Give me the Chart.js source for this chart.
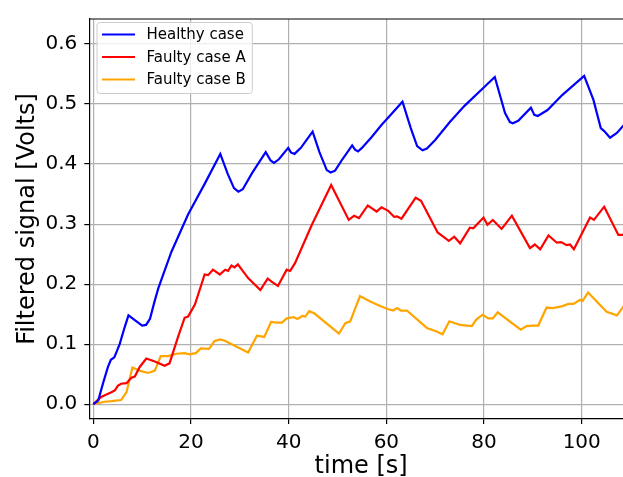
<!DOCTYPE html>
<html>
<head>
<meta charset="utf-8">
<script src="https://cdn.jsdelivr.net/npm/chart.js@4.4.1/dist/chart.umd.min.js"></script>
<style>
  html, body { margin: 0; padding: 0; background: #fff; overflow: hidden; width: 623px; height: 477px; }
  canvas { display: block; }
</style>
</head>
<body>
<canvas id="c" width="660" height="490" style="width:660px;height:490px"></canvas>
<script>
// ---- data ----
const seriesLabels = ['Healthy case', 'Faulty case A', 'Faulty case B'];

const healthyTime  = [0, 1, 2, 3, 3.6, 4.3, 5.4, 6.3, 7.2, 8.5, 10, 10.8, 11.6, 12.5, 13.3, 16, 19.4, 22.8, 26,
  27.5, 28.8, 29.7, 30.6, 32.5, 35.3, 36.3, 37, 38, 39.9, 40.5, 41.2, 42.5, 44.9, 46.3, 47.8, 48.6, 49.5, 51, 53,
  53.6, 54.2, 55, 57, 59, 61, 63.3, 65, 66.3, 67.4, 68.3, 70, 73, 76, 80, 82.2, 84.3, 85.3, 85.9, 87, 89.6, 90.3,
  91, 93, 96, 100.5, 102.4, 103.9, 104.6, 105.8, 107.2, 108.5, 110.5];
const healthyVolts = [0, 0.006, 0.035, 0.062, 0.074, 0.078, 0.100, 0.125, 0.148, 0.140, 0.131, 0.132, 0.142, 0.170, 0.193, 0.254, 0.316, 0.367, 0.417,
  0.384, 0.360, 0.354, 0.358, 0.385, 0.420, 0.406, 0.402, 0.408, 0.427, 0.419, 0.417, 0.427, 0.454, 0.420, 0.390, 0.386, 0.389, 0.408, 0.431,
  0.424, 0.421, 0.427, 0.445, 0.465, 0.483, 0.504, 0.460, 0.430, 0.423, 0.426, 0.440, 0.470, 0.497, 0.528, 0.545, 0.485, 0.470, 0.468, 0.472, 0.494, 0.482,
  0.480, 0.490, 0.515, 0.547, 0.507, 0.460, 0.455, 0.444, 0.452, 0.464, 0.478];

const faultyATime  = [0, 1.6, 2.7, 3.7, 4.4, 5.06, 5.7, 6.8, 7.8, 8.5, 9.5, 10.85, 12.6, 14.6, 15.6, 17.3, 18.7, 19.4, 20.8,
  22.8, 23.5, 24.5, 25.9, 27, 27.6, 28.3, 28.9, 29.6, 31.7, 34.2, 35.7, 36.5, 37.8, 39.6, 40.3, 41.3, 44.7, 48.7,
  52.3, 53.4, 54.4, 56.2, 56.9, 58, 59, 60.4, 61.6, 62.2, 63.1, 66, 67.1, 70.5, 71.5, 72.8, 73.9, 75.1, 77.1, 77.8,
  79.9, 80.7, 81.8, 83.6, 85.7, 89.4, 90.4, 91.5, 93.2, 94.9, 95.8, 96.9, 97.6, 98.4, 101.7, 102.5, 104.6, 107.5, 110.5];
const faultyAVolts = [0, 0.012, 0.016, 0.020, 0.023, 0.031, 0.034, 0.035, 0.044, 0.046, 0.062, 0.076, 0.071, 0.064, 0.068, 0.111, 0.144, 0.146, 0.166,
  0.216, 0.215, 0.224, 0.216, 0.224, 0.222, 0.231, 0.228, 0.233, 0.210, 0.190, 0.209, 0.204, 0.197, 0.224, 0.222, 0.235, 0.298, 0.365,
  0.307, 0.314, 0.310, 0.331, 0.327, 0.321, 0.328, 0.322, 0.312, 0.313, 0.309, 0.344, 0.339, 0.286, 0.280, 0.272, 0.279, 0.268, 0.294, 0.293,
  0.311, 0.299, 0.307, 0.292, 0.314, 0.260, 0.266, 0.258, 0.281, 0.269, 0.270, 0.265, 0.266, 0.258, 0.311, 0.307, 0.329, 0.282, 0.282];

const faultyBTime  = [0, 2.3, 3.7, 5.7, 6.8, 8.0, 9.8, 11.2, 12.6, 13.8, 15.3, 17, 18.7, 19.7, 21, 22, 23.7, 24.8, 25.9, 26.8,
  31.7, 33.5, 35, 36.4, 37.5, 38.6, 39.6, 41, 41.8, 42.8, 43.4, 44.2, 45.3, 50.3, 51.6, 52.6, 54.6, 56.7, 58.4, 60.1,
  61.4, 62.2, 63, 64.2, 68.3, 70.3, 71.5, 72.9, 73.6, 75.1, 77.5, 78.4, 79.7, 80.9, 81.8, 82.8, 87.5, 88.7, 90, 91.1,
  92.8, 94, 95.9, 97.3, 98.3, 99.7, 100.2, 101.3, 105.1, 107.2, 108.5, 110.5];
const faultyBVolts = [0, 0.004, 0.005, 0.007, 0.020, 0.061, 0.055, 0.052, 0.056, 0.080, 0.080, 0.084, 0.085, 0.083, 0.085, 0.093, 0.092, 0.105, 0.108, 0.106,
  0.086, 0.114, 0.112, 0.137, 0.136, 0.136, 0.143, 0.145, 0.142, 0.147, 0.146, 0.155, 0.151, 0.1175, 0.135, 0.138, 0.180, 0.171, 0.165, 0.159,
  0.156, 0.160, 0.156, 0.156, 0.127, 0.121, 0.1165, 0.138, 0.136, 0.132, 0.130, 0.141, 0.149, 0.143, 0.143, 0.153, 0.124, 0.130, 0.131, 0.131,
  0.161, 0.160, 0.163, 0.167, 0.167, 0.174, 0.172, 0.186, 0.154, 0.148, 0.162, 0.172];

const xTicks = [0, 20, 40, 60, 80, 100];
const yTicks = [0.0, 0.1, 0.2, 0.3, 0.4, 0.5, 0.6];
const seriesColors = ['#0000ff', '#ff0000', '#ffa500'];

// ---- chart ----
const FONT = "'DejaVu Sans', 'Liberation Sans', sans-serif";
Chart.defaults.font.family = FONT;
Chart.defaults.color = '#000';

function pts(t, v) { return t.map((x, i) => ({ x: x, y: v[i] })); }
const series = [[healthyTime, healthyVolts], [faultyATime, faultyAVolts], [faultyBTime, faultyBVolts]];

const framePlugin = {
  id: 'frameAndLegend',
  afterDraw(chart) {
    const ctx = chart.ctx, a = chart.chartArea;
    ctx.save();
    ctx.strokeStyle = '#000';
    ctx.lineWidth = 1.2;
    ctx.beginPath();
    ctx.moveTo(a.left, a.top); ctx.lineTo(a.right, a.top); ctx.lineTo(a.right, a.bottom);
    ctx.stroke();
    // legend box (matplotlib-style, upper left)
    const bx = 97, by = 22.5, bw = 155.3, bh = 71, r = 3;
    ctx.beginPath();
    ctx.moveTo(bx + r, by);
    ctx.lineTo(bx + bw - r, by); ctx.arcTo(bx + bw, by, bx + bw, by + r, r);
    ctx.lineTo(bx + bw, by + bh - r); ctx.arcTo(bx + bw, by + bh, bx + bw - r, by + bh, r);
    ctx.lineTo(bx + r, by + bh); ctx.arcTo(bx, by + bh, bx, by + bh - r, r);
    ctx.lineTo(bx, by + r); ctx.arcTo(bx, by, bx + r, by, r);
    ctx.closePath();
    ctx.fillStyle = 'rgba(255,255,255,0.8)';
    ctx.fill();
    ctx.strokeStyle = '#cccccc';
    ctx.lineWidth = 1;
    ctx.stroke();
    ctx.font = '15px ' + FONT;
    ctx.textBaseline = 'middle';
    ctx.textAlign = 'left';
    chart.data.datasets.forEach((ds, i) => {
      const y = 34.5 + i * 22.5;
      ctx.strokeStyle = ds.borderColor;
      ctx.lineWidth = 2.2;
      ctx.beginPath(); ctx.moveTo(102, y); ctx.lineTo(135, y); ctx.stroke();
      ctx.fillStyle = '#000';
      ctx.fillText(ds.label, 146.5, y + 0.8);
    });
    ctx.restore();
  }
};

new Chart(document.getElementById('c'), {
  type: 'line',
  data: {
    datasets: series.map((s, i) => ({
      label: seriesLabels[i],
      data: pts(s[0], s[1]),
      borderColor: seriesColors[i],
      backgroundColor: seriesColors[i],
      borderWidth: 2.2,
      pointRadius: 0,
      tension: 0,
      fill: false
    }))
  },
  options: {
    responsive: false,
    animation: false,
    devicePixelRatio: 1,
    layout: { padding: { left: 0, top: 14.7, right: 27, bottom: 0 } },
    plugins: { legend: { display: false }, tooltip: { enabled: false } },
    scales: {
      x: {
        type: 'linear',
        min: -0.82, max: 110.5,
        afterFit(scale) { scale.height = 71; },
        afterBuildTicks(scale) { scale.ticks = xTicks.map(v => ({ value: v })); },
        ticks: { font: { size: 20 }, color: '#000', padding: 7, maxRotation: 0, autoSkip: false,
                 callback: v => String(v) },
        grid: { color: '#b0b0b0', lineWidth: 1.2, tickLength: 5, tickColor: '#000', tickWidth: 1.2 },
        border: { color: '#000', width: 1.2 },
        title: { display: true, text: 'time [s]', font: { size: 24 }, color: '#000', padding: { top: 0, bottom: 8.6 } }
      },
      y: {
        type: 'linear',
        min: -0.0247, max: 0.6417,
        afterFit(scale) { scale.width = 89.3; },
        afterBuildTicks(scale) { scale.ticks = yTicks.map(v => ({ value: v })); },
        ticks: { font: { size: 20 }, color: '#000', padding: 7, autoSkip: false,
                 callback: v => Number(v).toFixed(1) },
        grid: { color: '#b0b0b0', lineWidth: 1.2, tickLength: 5, tickColor: '#000', tickWidth: 1.2 },
        border: { color: '#000', width: 1.2 },
        title: { display: true, text: 'Filtered signal [Volts]', font: { size: 24 }, color: '#000', padding: { top: 13.5, bottom: 0 } }
      }
    }
  },
  plugins: [framePlugin]
});
</script>
</body>
</html>
